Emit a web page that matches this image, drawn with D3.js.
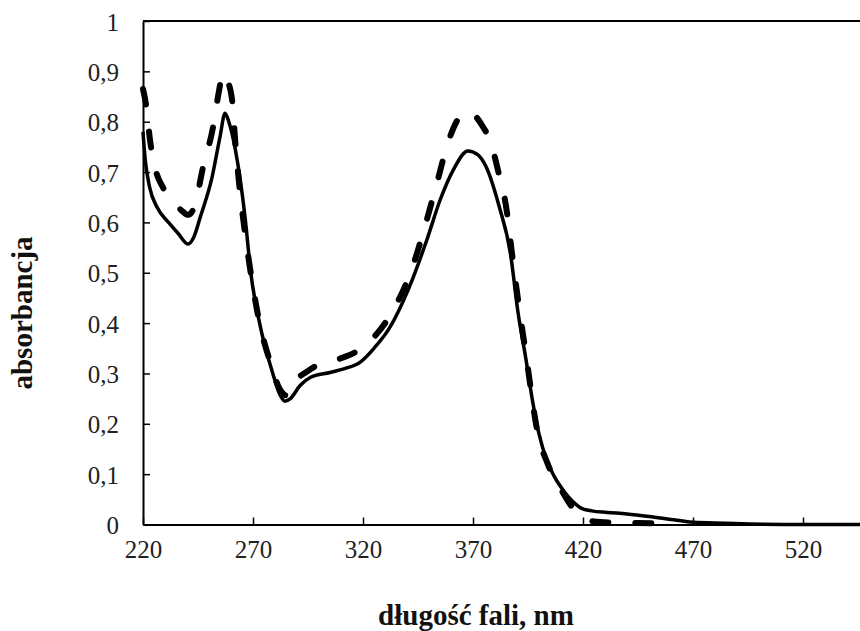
<!DOCTYPE html>
<html>
<head>
<meta charset="utf-8">
<script src="https://cdn.jsdelivr.net/npm/d3@7"></script>
<style>
  html, body { margin: 0; padding: 0; background: #fff; }
  svg { display: block; font-family: "Liberation Serif", "Times New Roman", serif; }
</style>
</head>
<body>
<svg id="chart" width="860" height="631"></svg>
<script>
// UV-Vis spectra, values.
const xTicks = [220, 270, 320, 370, 420, 470, 520];
const yTicks = [0, 0.1, 0.2, 0.3, 0.4, 0.5, 0.6, 0.7, 0.8, 0.9, 1];

// solid curve
const solidNm = [220, 221, 223, 226.4, 232, 236, 240.5, 243, 246, 251.4, 255, 257.3, 259, 262, 266.4, 269, 273, 279, 282, 284.5, 287, 291.4, 296, 305, 312, 318.6, 325, 332, 341, 349, 355, 361, 367.7, 372, 376, 382, 387, 390.5, 394, 397, 400, 403.6, 407, 411, 415, 418.6, 424, 431, 440, 450, 460, 468.6, 480, 496, 520, 546];
const solidAbs = [0.78, 0.725, 0.67, 0.63, 0.598, 0.578, 0.557, 0.57, 0.61, 0.69, 0.77, 0.817, 0.80, 0.744, 0.61, 0.50, 0.40, 0.30, 0.26, 0.245, 0.25, 0.276, 0.292, 0.302, 0.31, 0.322, 0.35, 0.39, 0.471, 0.565, 0.644, 0.704, 0.742, 0.735, 0.71, 0.63, 0.539, 0.42, 0.33, 0.247, 0.18, 0.127, 0.095, 0.068, 0.047, 0.034, 0.027, 0.024, 0.021, 0.016, 0.01, 0.005, 0.003, 0.001, 0, 0];

// dashed curve (fades into the axis after ~455 nm)
const dashNm = [220, 221.5, 223, 226, 229, 234, 238, 240.5, 243.6, 247, 252, 254.5, 256.4, 258, 260.5, 262, 264, 266.4, 269.5, 273, 278, 282, 285.5, 288, 290, 295, 300, 306, 313, 320, 324.5, 333.6, 342, 348, 353.6, 358.6, 362.5, 366.4, 370, 374.5, 378, 381, 385.5, 387.7, 390.5, 394, 399.5, 404, 410, 415, 420, 425, 432, 445, 455];
const dashAbs = [0.865, 0.83, 0.77, 0.70, 0.67, 0.64, 0.622, 0.615, 0.634, 0.704, 0.793, 0.86, 0.897, 0.885, 0.843, 0.757, 0.664, 0.578, 0.485, 0.40, 0.32, 0.27, 0.256, 0.265, 0.286, 0.305, 0.318, 0.325, 0.335, 0.352, 0.37, 0.425, 0.505, 0.59, 0.678, 0.758, 0.80, 0.82, 0.815, 0.79, 0.76, 0.71, 0.618, 0.539, 0.445, 0.34, 0.18, 0.12, 0.07, 0.035, 0.015, 0.006, 0.004, 0.003, 0.002];

const svg = d3.select('#chart');
const plotL = 143, plotR = 860.2, plotT = 21, plotB = 524.5;

// x axis runs past the right edge of the picture (cropped in the reference)
const x = d3.scaleLinear().domain([220, 546]).range([plotL, plotR]);
const y = d3.scaleLinear().domain([0, 1]).range([plotB, plotT]);

const pl = d3.formatLocale({ decimal: ',', thousands: ' ', grouping: [3], currency: ['', ''] });
const fmt = pl.format('.1~f');

// frame top line
svg.append('line')
  .attr('x1', plotL).attr('x2', 860).attr('y1', y(1)).attr('y2', y(1))
  .attr('stroke', '#000').attr('stroke-width', 2);

const yAxis = svg.append('g')
  .attr('transform', `translate(${plotL},0)`)
  .call(d3.axisLeft(y).tickValues(yTicks).tickFormat(fmt).tickSizeInner(-7).tickSizeOuter(0).tickPadding(24));

const xAxis = svg.append('g')
  .attr('transform', `translate(0,${plotB})`)
  .call(d3.axisBottom(x).tickValues(xTicks).tickFormat(d3.format('d')).tickSizeInner(-7).tickSizeOuter(0).tickPadding(16));

[yAxis, xAxis].forEach(g => {
  g.select('.domain').attr('stroke', '#000').attr('stroke-width', 2);
  g.selectAll('.tick line').attr('stroke', '#000').attr('stroke-width', 1.5);
  g.selectAll('.tick text')
    .attr('fill', '#222')
    .style('font-family', '"Liberation Serif", "Times New Roman", serif')
    .style('font-size', '25px');
});
yAxis.selectAll('.tick text').attr('dy', '0.36em');
xAxis.selectAll('.tick text').attr('dy', '0.71em');

// axis titles
svg.append('text')
  .attr('x', 476).attr('y', 625)
  .attr('text-anchor', 'middle')
  .style('font-size', '29px').style('font-weight', 'bold')
  .attr('fill', '#111')
  .text('długość fali, nm');

svg.append('text')
  .attr('transform', 'translate(32,313) rotate(-90)')
  .attr('text-anchor', 'middle')
  .style('font-size', '29px').style('font-weight', 'bold')
  .attr('fill', '#111')
  .text('absorbancja');

const line = d3.line()
  .x(d => x(d[0])).y(d => y(d[1]))
  .curve(d3.curveMonotoneX);

const dashed = d3.zip(dashNm, dashAbs);
const solid = d3.zip(solidNm, solidAbs);

svg.append('path')
  .datum(dashed)
  .attr('d', line)
  .attr('fill', 'none')
  .attr('stroke', '#000')
  .attr('stroke-width', 6)
  .attr('stroke-linecap', 'round')
  .attr('stroke-dasharray', '16,27');

svg.append('path')
  .datum(solid)
  .attr('d', line)
  .attr('fill', 'none')
  .attr('stroke', '#000')
  .attr('stroke-width', 3.5)
  .attr('stroke-linejoin', 'round');
</script>
</body>
</html>
